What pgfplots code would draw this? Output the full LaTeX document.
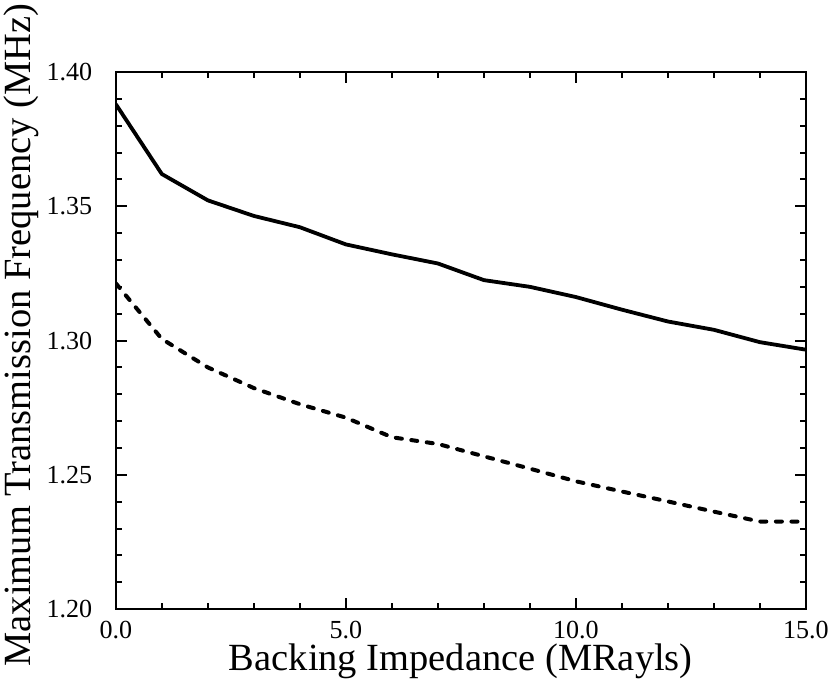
\documentclass[border=0pt]{standalone}
\usepackage{fontspec}
\setmainfont{Liberation Serif}
\usepackage{pgfplots}
\pgfplotsset{compat=1.18}
\begin{document}
\begin{tikzpicture}
\begin{axis}[
  scale only axis,
  width=686bp, height=534bp,
  xmin=0, xmax=15, ymin=1.20, ymax=1.40,
  xtick={0,5,10,15},
  ytick={1.20,1.25,1.30,1.35,1.40},
  minor x tick num=4,
  minor y tick num=4,
  tick align=inside,
  major tick length=11bp,
  minor tick length=6bp,
  every tick/.style={black, line width=2pt},
  axis line style={line width=2.6pt},
  xticklabel={\fontsize{26}{28}\selectfont\pgfmathprintnumber[fixed,fixed zerofill,precision=1,assume math mode=true]{\tick}},
  yticklabel={\fontsize{26}{28}\selectfont\pgfmathprintnumber[fixed,fixed zerofill,precision=2,assume math mode=true]{\tick}},
  xticklabel style={yshift=-8bp},
  yticklabel style={xshift=-20bp},
  label style={font=\fontsize{38.4}{41}\selectfont},
  xlabel={Backing Impedance (MRayls)},
  ylabel={Maximum Transmission Frequency (MHz)},
  xlabel style={inner sep=0pt, yshift=-2bp},
  ylabel style={at={(ticklabel cs:0.51)}, inner sep=4bp, yshift=0bp},
]
\addplot[black, line width=3.8pt, line join=round] coordinates {
(0,1.388) (1,1.362) (2,1.3522) (3,1.3464) (4,1.3422) (5,1.3358) (6,1.3321) (7,1.3287)
(8,1.3225) (9,1.3200) (10,1.3162) (11,1.3115) (12,1.3071) (13,1.3040) (14,1.2994) (15,1.2966)
};
\addplot[black, line width=4pt, line cap=round, dash pattern=on 6bp off 9.5bp] coordinates {
(0,1.3213) (1,1.3006) (2,1.2900) (3,1.2823) (4,1.2763) (5,1.2713) (6,1.2640) (7,1.2615)
(8,1.2569) (9,1.2523) (10,1.2476) (11,1.2438) (12,1.2401) (13,1.2363) (14,1.2326) (15,1.2326)
};
\end{axis}
\end{tikzpicture}
\end{document}
